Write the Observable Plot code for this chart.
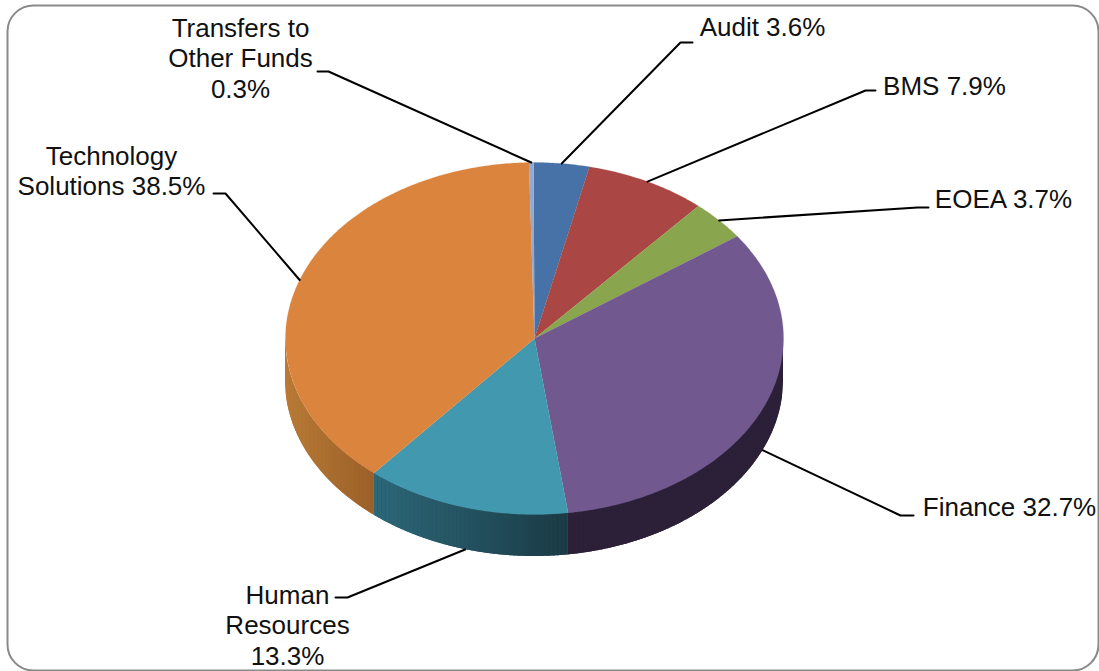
<!DOCTYPE html>
<html>
<head>
<meta charset="utf-8">
<script src="https://cdn.jsdelivr.net/npm/d3@7"></script>
<script src="https://cdn.jsdelivr.net/npm/@observablehq/plot@0.6"></script>
<style>
  html, body { margin: 0; padding: 0; background: #fff; }
  svg { display: block; }
</style>
</head>
<body>
<div id="chart"></div>
<script>
// Budget share by department, clockwise from just before twelve o'clock.
const categories = ["Audit", "BMS", "EOEA", "Finance", "Human Resources", "Technology Solutions", "Transfers to Other Funds"];
const shares = [3.6, 7.9, 3.7, 32.7, 13.3, 38.5, 0.3];
const labelPrefixes = ["Audit ", "BMS ", "EOEA ", "Finance ", "Human\nResources\n", "Technology\nSolutions ", "Transfers to\nOther Funds\n"];
const faceColors = ["#4672A8", "#AA4643", "#89A54E", "#71588F", "#4198AF", "#DB843D", "#93A9CF"];

// Rim shading per slice, left to right; slices that never reach the front have none.
const wallStops = {
  "Finance": ["#2c2038", "#2c2038"],
  "Human Resources": ["#2d6879", "#1a3a44"],
  "Technology Solutions": ["#b87a35", "#9b6029"]
};

// Label placement: text centre, and the two ends of the short horizontal tick.
const labelCentreX = [762, 944, 1003, 1009, 287, 111, 240];
const labelCentreY = [26, 85, 198, 506, 624, 170, 57];
const tickStartX = [692, 875, 928, 913, 335, 213, 317];
const tickEndX = [680, 865, 917, 900, 347, 225, 328];
const tickY = [42, 90, 207, 515, 597, 193, 71];

// Pie ellipse on the page.
const cx = 534, cy = 338, rx = 249, ry = 176, depth = 42;
const rotation = -0.2 * Math.PI / 180;
const bandWidth = 4;
const px = a => cx + rx * Math.sin(a);
const py = a => cy - ry * Math.cos(a);
const turn = 2 * Math.PI / d3.sum(shares);

const slices = [];
let running = 0;
shares.forEach((v, i) => {
  slices.push({name: categories[i], start: rotation + running * turn, end: rotation + (running + v) * turn, value: v, index: i});
  running += v;
});

// Top faces as closed polygons through the centre.
const facePoints = slices.flatMap(s => {
  const n = Math.max(2, Math.ceil((s.end - s.start) / 0.01));
  const rim = d3.range(n + 1).map(k => {
    const a = s.start + (s.end - s.start) * k / n;
    return {name: s.name, x: px(a), y: py(a)};
  });
  return [{name: s.name, x: cx, y: cy}, ...rim];
});

// Front rim height at a page x, on the near half of the ellipse.
const nearY = x => cy + ry * Math.sqrt(Math.max(0, 1 - ((x - cx) / rx) ** 2));

// Front wall: a solid base per slice, overlaid with vertical shading bands.
const wallExtents = slices.flatMap(s => {
  const from = Math.max(s.start, Math.PI / 2);
  const to = Math.min(s.end, 3 * Math.PI / 2);
  if (to <= from || !wallStops[s.name]) return [];
  return [{name: s.name, left: Math.min(px(from), px(to)), right: Math.max(px(from), px(to))}];
});
const wallEdge = (key, colour, left, right) => {
  const n = Math.max(1, Math.ceil(right - left));
  return d3.range(n + 1).map(k => {
    const x = left + (right - left) * k / n;
    return {key, colour, x, top: nearY(x), bottom: nearY(x) + depth};
  });
};
const wallBase = wallExtents.flatMap(w =>
  wallEdge(w.name, d3.interpolateRgb(...wallStops[w.name])(0.5), w.left, w.right));
const wallBands = wallExtents.flatMap(w => {
  const shade = d3.interpolateRgb(...wallStops[w.name]);
  const n = Math.max(1, Math.round((w.right - w.left) / bandWidth));
  const step = (w.right - w.left) / n;
  return d3.range(n).flatMap(k =>
    wallEdge(`${w.name}-${k}`, shade((k + 0.5) / n), w.left + k * step, w.left + (k + 1) * step));
});

// Leader lines: label tick, elbow, then the rim at the middle of the slice.
const leaderPoints = slices.flatMap(s => {
  const mid = (s.start + s.end) / 2;
  const front = Math.cos(mid) < 0 ? depth : 0;
  return [
    {name: s.name, x: tickStartX[s.index], y: tickY[s.index]},
    {name: s.name, x: tickEndX[s.index], y: tickY[s.index]},
    {name: s.name, x: px(mid), y: py(mid) + front}
  ];
});

const labels = slices.map(s => ({
  text: labelPrefixes[s.index] + s.value.toFixed(1) + "%",
  x: labelCentreX[s.index],
  y: labelCentreY[s.index]
}));

const wallMark = data => Plot.area(data, {
  x1: "x", x2: "x", y1: "top", y2: "bottom", z: "key",
  fill: {value: "colour", scale: null}
});

const chart = Plot.plot({
  width: 1099,
  height: 671,
  margin: 0,
  style: {background: "#fff", fontFamily: "'Liberation Sans', Arial, sans-serif"},
  x: {type: "linear", domain: [0, 1099], range: [0, 1099], axis: null},
  y: {type: "linear", domain: [0, 671], range: [0, 671], axis: null},
  color: {type: "ordinal", domain: categories, range: faceColors},
  marks: [
    Plot.frame({stroke: "#8a8a8a", strokeWidth: 2, rx: 26, insetLeft: 7, insetTop: 5, insetRight: 1, insetBottom: 1}),
    wallMark(wallBase),
    wallMark(wallBands),
    Plot.line(facePoints, {x: "x", y: "y", z: "name", fill: "name", stroke: "name", strokeWidth: 0.2, curve: "linear"}),
    Plot.line(leaderPoints, {x: "x", y: "y", z: "name", stroke: "#000", strokeWidth: 2, strokeLinejoin: "round"}),
    Plot.text(labels, {x: "x", y: "y", text: "text", fontSize: 26, lineHeight: 1.17, fill: "#111", textAnchor: "middle"})
  ]
});
document.getElementById("chart").append(chart);
</script>
</body>
</html>
